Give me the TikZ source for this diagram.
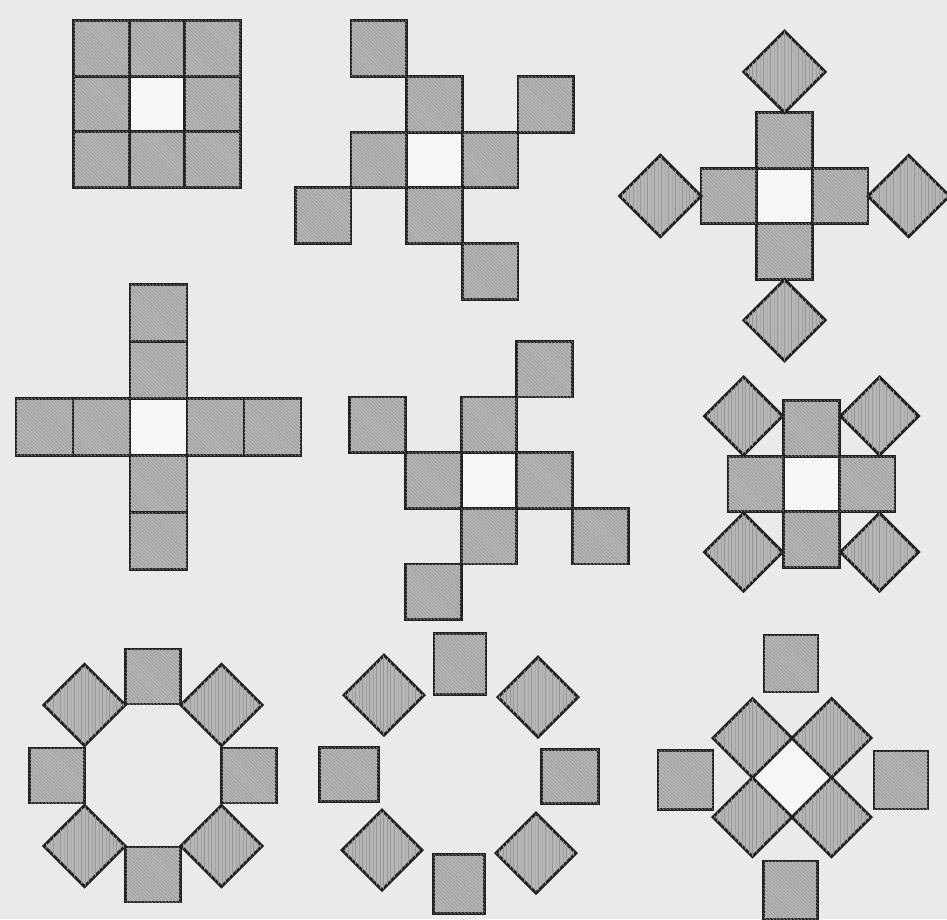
\documentclass[tikz,border=0pt]{standalone}
\usepackage{tikz}
\usetikzlibrary{shapes.geometric, positioning, patterns}
\definecolor{tilepaper}{RGB}{234, 234, 232}
\definecolor{tileshade}{RGB}{182, 182, 182}
\definecolor{tilehatch}{RGB}{150, 150, 150}
\definecolor{tileink}{RGB}{32, 32, 32}
\definecolor{tilehole}{RGB}{246, 246, 245}

\begin{document}
\begin{tikzpicture}[
  x=0.3mm, y=-0.3mm,
  cell/.style={rectangle, draw=tileink, fill=tileshade, line width=0.85mm,
              minimum size=16.7mm, inner sep=0pt, outer sep=0pt,
              postaction={pattern=north west lines, pattern color=tilehatch}},
  blank/.style={rectangle, fill=tilehole, minimum size=16.7mm,
              inner sep=0pt, outer sep=0pt},
  lozenge/.style={diamond, aspect=1, draw=tileink, fill=tileshade, line width=0.85mm,
              minimum size=24.4mm, inner sep=0pt, outer sep=0pt,
              postaction={pattern=vertical lines, pattern color=tilehatch}},
  blanklozenge/.style={diamond, aspect=1, fill=tilehole, minimum size=23.7mm,
              inner sep=0pt, outer sep=0pt},
]
  \useasboundingbox (0,0) rectangle (947,919);
  \clip (0,0) rectangle (947,919);
  \fill[tilepaper] (0,0) rectangle (947,919);

  \node[blank] (c1) at (157,104) {};
  \node[cell, above=0pt of c1] (n1) {};
  \node[cell, below=0pt of c1] (s1) {};
  \node[cell, left=0pt of c1] (w1) {};
  \node[cell, right=0pt of c1] (e1) {};
  \node[cell, above left=0pt and 0pt of c1] (nw1) {};
  \node[cell, above right=0pt and 0pt of c1] (ne1) {};
  \node[cell, below left=0pt and 0pt of c1] (sw1) {};
  \node[cell, below right=0pt and 0pt of c1] (se1) {};

  \node[blank] (c2) at (434.5,160) {};
  \node[cell, above=0pt of c2] (n2) {};
  \node[cell, right=0pt of c2] (e2) {};
  \node[cell, below=0pt of c2] (s2) {};
  \node[cell, left=0pt of c2] (w2) {};
  \node[cell, above left=0pt and 0pt of n2] (n2arm) {};
  \node[cell, above right=0pt and 0pt of e2] (e2arm) {};
  \node[cell, below right=0pt and 0pt of s2] (s2arm) {};
  \node[cell, below left=0pt and 0pt of w2] (w2arm) {};

  \node[blank] (c3) at (784.5,196) {};
  \node[cell, above=0pt of c3] (n3) {};
  \node[cell, below=0pt of c3] (s3) {};
  \node[cell, left=0pt of c3] (w3) {};
  \node[cell, right=0pt of c3] (e3) {};
  \node[lozenge, above=0pt of n3] (n3tip) {};
  \node[lozenge, below=0pt of s3] (s3tip) {};
  \node[lozenge, left=0pt of w3] (w3tip) {};
  \node[lozenge, right=0pt of e3] (e3tip) {};

  \begin{scope}[cell/.append style={minimum size=17.1mm},
                blank/.append style={minimum size=17.1mm}]
  \node[blank] (c4) at (158.5,427) {};
  \node[cell, above=0pt of c4] (n4a) {};
  \node[cell, above=0pt of n4a] (n4b) {};
  \node[cell, below=0pt of c4] (s4a) {};
  \node[cell, below=0pt of s4a] (s4b) {};
  \node[cell, left=0pt of c4] (w4a) {};
  \node[cell, left=0pt of w4a] (w4b) {};
  \node[cell, right=0pt of c4] (e4a) {};
  \node[cell, right=0pt of e4a] (e4b) {};
  \end{scope}

  \node[blank] (c5) at (489,480.5) {};
  \node[cell, above=0pt of c5] (n5) {};
  \node[cell, left=0pt of c5] (w5) {};
  \node[cell, right=0pt of c5] (e5) {};
  \node[cell, below=0pt of c5] (s5) {};
  \node[cell, above right=0pt and 0pt of n5] (n5arm) {};
  \node[cell, above left=0pt and 0pt of w5] (w5arm) {};
  \node[cell, below right=0pt and 0pt of e5] (e5arm) {};
  \node[cell, below left=0pt and 0pt of s5] (s5arm) {};

  \node[lozenge, minimum size=23.4mm] (nw6) at (743.5,416) {};
  \node[lozenge, minimum size=23.4mm] (ne6) at (879.5,416) {};
  \node[lozenge, minimum size=23.4mm] (sw6) at (743.5,552) {};
  \node[lozenge, minimum size=23.4mm] (se6) at (879.5,552) {};
  \node[blank] (c6) at (811.5,484) {};
  \node[cell, above=0pt of c6] (n6) {};
  \node[cell, below=0pt of c6] (s6) {};
  \node[cell, left=0pt of c6] (w6) {};
  \node[cell, right=0pt of c6] (e6) {};

  \node[cell, minimum size=16.5mm] (n7) at (153,676.5) {};
  \node[cell, minimum size=16.5mm] (s7) at (153,874.5) {};
  \node[cell, minimum size=16.5mm] (w7) at (57,775.5) {};
  \node[cell, minimum size=16.5mm] (e7) at (249,775.5) {};
  \node[lozenge] (nw7) at (84.5,705) {};
  \node[lozenge] (ne7) at (221.5,705) {};
  \node[lozenge] (sw7) at (84.5,846) {};
  \node[lozenge] (se7) at (221.5,846) {};

  \node[cell, minimum width=15.6mm, minimum height=18.3mm] (n8) at (460,664) {};
  \node[cell, minimum width=15.3mm, minimum height=17.7mm] (s8) at (459,884) {};
  \node[cell, minimum width=17.7mm, minimum height=16.2mm] (w8) at (349,774.5) {};
  \node[cell, minimum width=17.1mm, minimum height=16.2mm] (e8) at (570,776.5) {};
  \node[lozenge, minimum size=24mm] (nw8) at (384,695) {};
  \node[lozenge, minimum size=24mm] (ne8) at (538,697) {};
  \node[lozenge, minimum size=24mm] (sw8) at (382,850) {};
  \node[lozenge, minimum size=24mm] (se8) at (536,853) {};

  \node[blanklozenge] (c9) at (792,777.5) {};
  \node[lozenge, minimum size=23.7mm] (nw9) at (752.5,738) {};
  \node[lozenge, minimum size=23.7mm] (ne9) at (831.5,738) {};
  \node[lozenge, minimum size=23.7mm] (sw9) at (752.5,817) {};
  \node[lozenge, minimum size=23.7mm] (se9) at (831.5,817) {};
  \node[cell, minimum width=16.2mm, minimum height=17.1mm] (n9) at (791,663.5) {};
  \node[cell, minimum width=16.2mm, minimum height=17.4mm] (s9) at (790.5,890) {};
  \node[cell, minimum width=16.5mm, minimum height=17.7mm] (w9) at (685.5,780) {};
  \node[cell, minimum width=16.2mm, minimum height=17.4mm] (e9) at (901,780) {};
\end{tikzpicture}
\end{document}
